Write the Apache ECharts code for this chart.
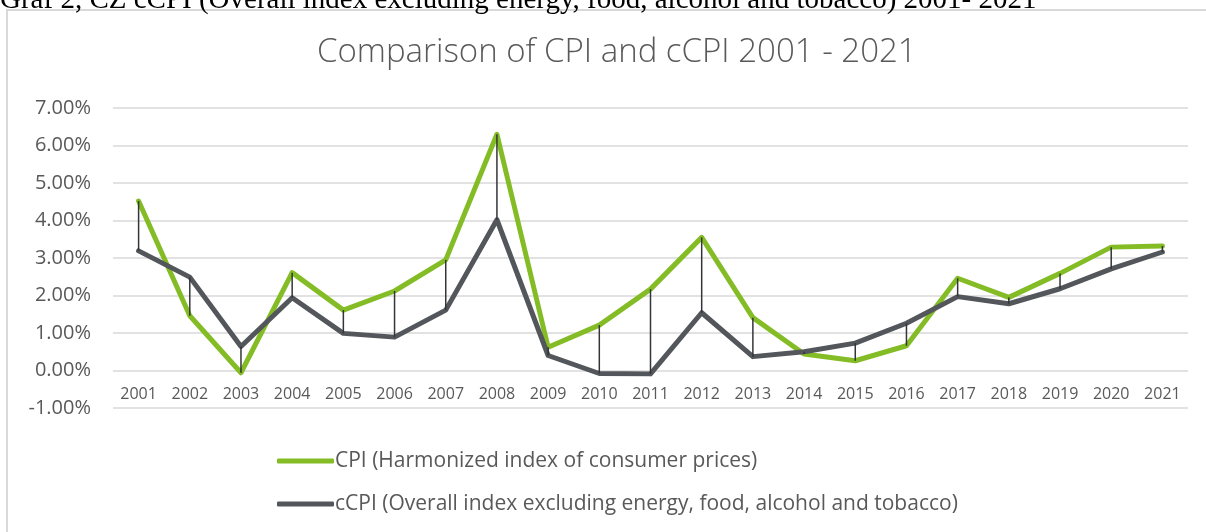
<!DOCTYPE html>
<html>
<head>
<meta charset="utf-8">
<script src="https://cdn.jsdelivr.net/npm/echarts@6/dist/echarts.min.js"></script>
<style>
  html, body { margin: 0; padding: 0; background: #fff; }
  #chart { width: 1206px; height: 532px; }
</style>
</head>
<body>
<div id="chart"></div>
<script>
// data (percent)
const years = ['2001', '2002', '2003', '2004', '2005', '2006', '2007', '2008', '2009', '2010', '2011',
  '2012', '2013', '2014', '2015', '2016', '2017', '2018', '2019', '2020', '2021'];
const cpi = [4.52, 1.46, -0.06, 2.61, 1.61, 2.12, 2.95, 6.30, 0.62, 1.21, 2.17,
  3.55, 1.41, 0.44, 0.26, 0.66, 2.46, 1.95, 2.59, 3.29, 3.32];
const ccpi = [3.19, 2.49, 0.64, 1.94, 0.99, 0.89, 1.61, 4.02, 0.40, -0.08, -0.09,
  1.54, 0.37, 0.50, 0.73, 1.26, 1.97, 1.78, 2.18, 2.71, 3.16];
const cpiName = 'CPI (Harmonized index of consumer prices)';
const ccpiName = 'cCPI (Overall index excluding energy, food, alcohol and tobacco)';

const textColor = '#595959';
const gridColor = '#d9d9d9';

// high-low lines between the two series
const hiLo = years.map((y, i) => [i, cpi[i], ccpi[i]]);

const chart = echarts.init(document.getElementById('chart'));
chart.setOption({
  animation: false,
  textStyle: { fontFamily: 'Open Sans' },
  title: {
    text: 'Comparison of CPI and cCPI 2001 - 2021',
    left: 312,
    top: 31,
    textStyle: { fontFamily: 'Open Sans', fontWeight: 300, fontSize: 33, color: textColor }
  },
  graphic: [
    {
      type: 'rect',
      shape: { x: 7, y: 10, width: 1220, height: 540 },
      style: { fill: 'none', stroke: gridColor, lineWidth: 2 },
      silent: true
    },
    {
      type: 'text',
      left: 0,
      top: -14,
      style: {
        text: 'Graf 2, CZ cCPI (Overall index excluding energy, food, alcohol and tobacco) 2001- 2021',
        font: '29px "Liberation Serif"',
        fill: '#000'
      },
      silent: true
    }
  ],
  legend: {
    orient: 'vertical',
    left: 277,
    top: 449,
    padding: 0,
    itemWidth: 57,
    itemHeight: 5,
    itemGap: 19,
    icon: 'roundRect',
    textStyle: { fontSize: 21, color: textColor, lineHeight: 24, padding: [0, 0, 0, -4] },
    data: [cpiName, ccpiName]
  },
  grid: { left: 113, right: 18, top: 108, bottom: 124 },
  xAxis: {
    type: 'category',
    data: years,
    offset: -37.5,
    axisLine: { show: false },
    axisTick: { show: false },
    axisLabel: { color: textColor, fontSize: 16, margin: 16 }
  },
  yAxis: {
    type: 'value',
    min: -1,
    max: 7,
    interval: 1,
    axisLine: { show: false },
    axisTick: { show: false },
    axisLabel: {
      color: textColor,
      fontSize: 20,
      margin: 22,
      formatter: v => v.toFixed(2) + '%'
    },
    splitLine: { lineStyle: { color: gridColor, width: 1.5 } }
  },
  series: [
    {
      name: cpiName,
      type: 'line',
      data: cpi,
      symbol: 'none',
      lineStyle: { color: '#84bc25', width: 5, join: 'round', cap: 'round' },
      itemStyle: { color: '#84bc25' },
      z: 2
    },
    {
      name: ccpiName,
      type: 'line',
      data: ccpi,
      symbol: 'none',
      lineStyle: { color: '#53575b', width: 5, join: 'round', cap: 'round' },
      itemStyle: { color: '#53575b' },
      z: 3
    },
    {
      type: 'custom',
      data: hiLo,
      z: 4,
      silent: true,
      renderItem: (params, api) => {
        const a = api.coord([api.value(0), api.value(1)]);
        const b = api.coord([api.value(0), api.value(2)]);
        return {
          type: 'line',
          shape: { x1: a[0], y1: a[1], x2: b[0], y2: b[1] },
          style: { stroke: '#333538', lineWidth: 1.5 }
        };
      }
    }
  ]
});
</script>
</body>
</html>
